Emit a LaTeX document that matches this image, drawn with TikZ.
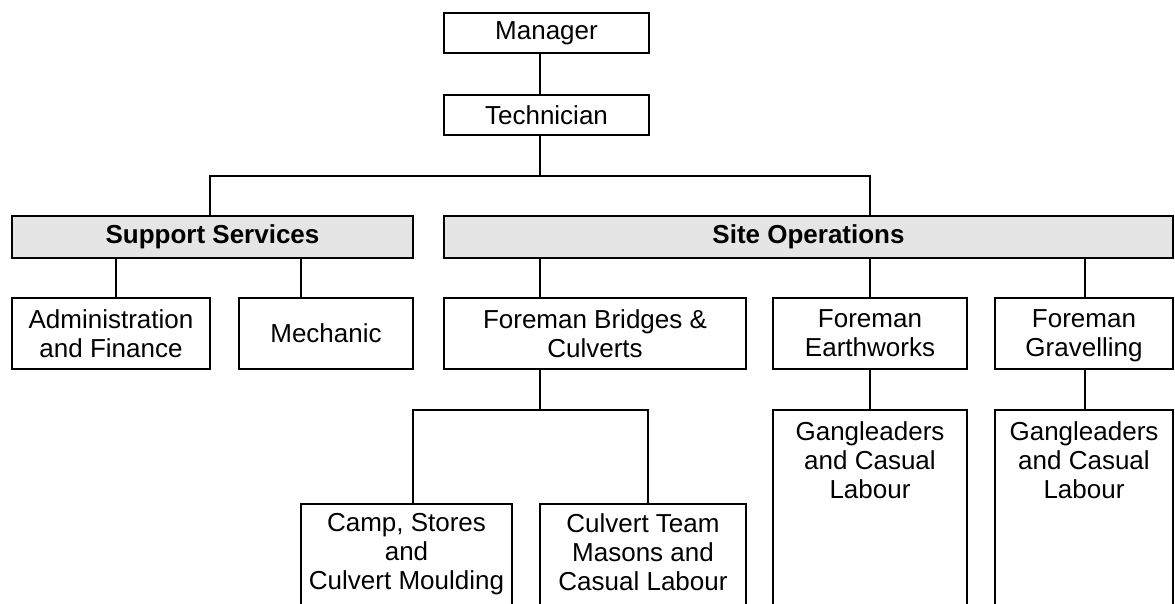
\documentclass[tikz,border=0pt]{standalone}
\usepackage{fontspec}
\setmainfont{Liberation Sans}
\definecolor{headgray}{HTML}{E5E5E5}
\begin{document}
\begin{tikzpicture}[x=1pt,y=-1pt,
  line/.style={line width=2.4pt},
  box/.style={draw, line width=2.4pt, rectangle, inner sep=0pt,
    font=\fontsize{26}{29}\selectfont, align=center},
  head/.style={box, fill=headgray, font=\fontsize{26}{29}\selectfont\bfseries},
  lbl/.style={inner sep=0pt, font=\fontsize{26}{29}\selectfont, align=center, anchor=north}]
\useasboundingbox (0,0) rectangle (1175,603);
% top
\node[box, minimum width=205pt, minimum height=40pt] (man) at (546.5,33) {Manager};
\node[box, minimum width=205pt, minimum height=40pt] (tech) at (546.5,115) {Technician};
% headers
\node[head, minimum width=401pt, minimum height=42pt] (sup) at (212.5,237) {Support Services};
\node[head, minimum width=729pt, minimum height=42pt] (site) at (808.5,237) {Site Operations};
% second level
\node[box, minimum width=198pt, minimum height=71pt] (adm) at (111,333.5) {Administration\\and Finance};
\node[box, minimum width=174pt, minimum height=71pt] (mech) at (326,333.5) {Mechanic};
\node[box, minimum width=302pt, minimum height=71pt] (bri) at (595,333.5) {Foreman Bridges \&\\Culverts};
\node[box, minimum width=194pt, minimum height=71pt] (ear) at (870,333.5) {Foreman\\Earthworks};
\node[box, minimum width=178pt, minimum height=71pt] (gra) at (1084,333.5) {Foreman\\\raisebox{0pt}[\height][0pt]{Gravelling}};
% bottom (open) boxes
\node[box, minimum width=211pt, minimum height=196pt] (camp) at (406.5,602) {};
\node[box, minimum width=206pt, minimum height=196pt] (cul) at (643,602) {};
\node[box, minimum width=194pt, minimum height=290pt] (g1) at (870,555) {};
\node[box, minimum width=178pt, minimum height=290pt] (g2) at (1084,555) {};
\node[lbl] (campt) at (406.5,513) {Camp, Stores\\and\\Culvert Moulding};
\node[lbl] (cult) at (643,513) {Culvert Team\\Masons and\\Casual Labour};
\node[lbl] (g1t) at (870,421) {Gangleaders\\and Casual\\Labour};
\node[lbl] (g2t) at (1084,421) {Gangleaders\\and Casual\\Labour};
% coordinates for connector columns
\coordinate (tx) at (540,176);
\coordinate (bL) at (210,176);
\coordinate (bR) at (870,176);
\coordinate (s1) at (116,258);
\coordinate (s2) at (301,258);
\coordinate (c1) at (540,258);
\coordinate (c2) at (870,258);
\coordinate (c3) at (1085,258);
\coordinate (fL) at (413,410);
\coordinate (fM) at (540,410);
\coordinate (fR) at (648,410);
% connectors
\draw[line] (man.south -| tx) -- (tech.north -| tx);
\draw[line] (tech.south -| tx) -- (tx);
\draw[line] (sup.north -| bL) -- (bL) -- (bR) -- (site.north -| bR);
\draw[line] (sup.south -| s1) -- (adm.north -| s1);
\draw[line] (sup.south -| s2) -- (mech.north -| s2);
\draw[line] (site.south -| c1) -- (bri.north -| c1);
\draw[line] (site.south -| c2) -- (ear.north -| c2);
\draw[line] (site.south -| c3) -- (gra.north -| c3);
\draw[line] (bri.south -| fM) -- (fM);
\draw[line] (camp.north -| fL) -- (fL) -- (fR) -- (cul.north -| fR);
\draw[line] (ear.south -| c2) -- (g1.north -| c2);
\draw[line] (gra.south -| c3) -- (g2.north -| c3);
\end{tikzpicture}
\end{document}
